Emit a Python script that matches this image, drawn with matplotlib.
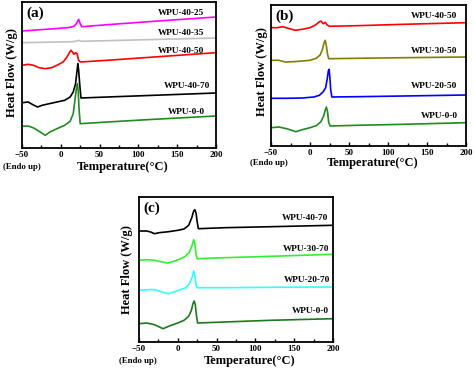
import matplotlib.pyplot as plt
from matplotlib.ticker import MultipleLocator

plt.rcParams['font.family'] = ['Liberation Serif', 'DejaVu Serif']
plt.rcParams['font.weight'] = 'bold'

# ---- panel (a) data (temperature in C, heat flow in arbitrary offset units) ----
a_4025_t = [-50, -30, -10, 10, 17, 20, 23, 25, 27, 60, 120, 200]
a_4025_y = [117.0, 118.1, 119.2, 120.4, 121.7, 124.3, 128.7, 124.3, 121.3, 123.3, 126.7, 131.0]
a_4035_t = [-50, 15, 21, 23, 26, 200]
a_4035_y = [105.3, 106.3, 107.0, 107.7, 106.7, 110.0]
a_4050_t = [-50, -42, -35, -28, -20, -12, -5, 3, 8, 11, 13, 15, 17, 19, 21, 23, 25, 60, 120, 200]
a_4050_y = [82.7, 83.7, 82.7, 80.3, 79.3, 80.3, 82.7, 86.0, 91.0, 95.3, 97.7, 96.0, 93.7, 95.3,
            94.3, 87.7, 86.0, 87.7, 91.0, 95.3]
a_4070_t = [-50, -42, -36, -30, -24, -15, -5, 5, 12, 16, 19, 21, 22, 23, 24.5, 26, 60, 120, 200]
a_4070_y = [45.3, 46.0, 43.3, 41.0, 42.7, 44.3, 46.0, 47.7, 51.0, 56.0, 64.3, 77.7, 84.3, 77.7,
            62.7, 50.0, 51.0, 52.7, 55.0]
a_00_t = [-50, -42, -35, -28, -20, -14, -5, 5, 12, 16, 18.5, 20.5, 21.5, 22.5, 23.5, 25, 60, 120, 200]
a_00_y = [21.7, 22.0, 20.0, 16.7, 12.7, 16.0, 19.3, 22.7, 26.7, 34.3, 49.3, 62.0, 64.3, 56.0,
          39.3, 24.3, 26.0, 28.7, 32.0]

# ---- panel (b) data ----
b_4050_t = [-50, -42, -35, -28, -19, -10, 0, 7, 11, 14, 17, 19.5, 22, 25, 60, 120, 200]
b_4050_y = [118.3, 118.3, 119.3, 117.7, 115.7, 116.7, 118.3, 121.0, 123.7, 125.0, 122.3, 123.7,
            121.0, 119.7, 120.3, 121.7, 123.3]
b_3050_t = [-50, -40, -32, -22, -10, 0, 8, 13, 16, 18, 19.5, 21, 22.5, 24, 60, 120, 200]
b_3050_y = [85.7, 85.7, 84.0, 84.3, 85.0, 85.7, 87.7, 91.0, 96.7, 103.3, 105.7, 100.0, 91.7,
            87.3, 87.7, 88.3, 89.0]
b_2050_t = [-50, -30, -10, 5, 12, 17, 20, 22, 23.5, 24.5, 25.5, 26.5, 28, 60, 120, 200]
b_2050_y = [47.7, 47.7, 48.0, 49.0, 50.7, 54.3, 58.3, 66.7, 75.0, 76.7, 68.3, 56.7, 49.0, 49.3,
            50.0, 51.0]
b_00_t = [-50, -40, -30, -18, -10, 0, 8, 14, 17.5, 19.5, 21, 22.5, 24, 26, 60, 120, 200]
b_00_y = [18.3, 19.0, 17.3, 14.3, 16.3, 18.3, 20.3, 24.3, 30.0, 35.7, 39.0, 34.3, 23.3, 20.0,
          20.7, 21.7, 23.3]

# ---- panel (c) data ----
c_4070_t = [-50, -40, -35, -30, -24, -12, 0, 8, 14, 18, 20.5, 22, 23.5, 25, 26.5, 60, 120, 200]
c_4070_y = [111.0, 111.0, 110.0, 108.3, 109.3, 110.3, 111.7, 113.0, 116.7, 124.3, 131.0, 132.3,
            129.0, 120.0, 113.3, 114.3, 115.3, 116.7]
c_3070_t = [-50, -40, -30, -20, -13, -5, 3, 10, 15, 18.5, 20.5, 22, 23.5, 25, 60, 120, 200]
c_3070_y = [81.7, 82.3, 81.7, 80.0, 79.0, 80.7, 83.0, 85.7, 90.0, 96.7, 102.3, 98.3, 87.7, 83.3,
            84.3, 85.7, 87.7]
c_2070_t = [-50, -40, -30, -20, -12, -4, 3, 10, 15, 18.5, 20.5, 22, 23.5, 25, 60, 120, 200]
c_2070_y = [51.7, 52.3, 52.3, 50.0, 48.3, 50.3, 52.3, 54.3, 58.3, 65.0, 71.0, 66.7, 57.7, 54.3,
            54.3, 54.7, 55.0]
c_00_t = [-50, -40, -30, -19, -10, 0, 8, 14, 17.5, 19.5, 21, 22.5, 24, 25.5, 60, 120, 200]
c_00_y = [18.3, 19.0, 17.3, 13.3, 16.3, 19.0, 21.7, 25.7, 31.7, 38.3, 41.0, 37.7, 26.7, 19.0,
          20.0, 21.7, 23.3]

panels = [
    {'tag': '(a)', 'rect': [22, 2, 216, 148], 'ytop': 146,
     'series': [(a_4025_t, a_4025_y, '#ff00ff', 'WPU-40-25', 185, 135.3),
                (a_4035_t, a_4035_y, '#c0c0c0', 'WPU-40-35', 185, 115),
                (a_4050_t, a_4050_y, '#ff0000', 'WPU-40-50', 185, 97),
                (a_4070_t, a_4070_y, '#000000', 'WPU-40-70', 192, 62),
                (a_00_t, a_00_y, '#1e8c1e', 'WPU-0-0', 186, 36)],
     'xlab': (123, 167), 'ylab': (12, 73), 'endo': (41, 167)},
    {'tag': '(b)', 'rect': [271, 5, 466, 146], 'ytop': 141,
     'series': [(b_4050_t, b_4050_y, '#ff0000', 'WPU-40-50', 189, 130),
                (b_3050_t, b_3050_y, '#808000', 'WPU-30-50', 189, 95),
                (b_2050_t, b_2050_y, '#0000ff', 'WPU-20-50', 189, 60),
                (b_00_t, b_00_y, '#1e8c1e', 'WPU-0-0', 189, 30)],
     'xlab': (373, 163), 'ylab': (262, 72), 'endo': (288, 163)},
    {'tag': '(c)', 'rect': [139, 197, 333, 342], 'ytop': 145,
     'series': [(c_4070_t, c_4070_y, '#000000', 'WPU-40-70', 193.6, 124.3),
                (c_3070_t, c_3070_y, '#33ee33', 'WPU-30-70', 195.7, 93.3),
                (c_2070_t, c_2070_y, '#33ffff', 'WPU-20-70', 195.7, 62.3),
                (c_00_t, c_00_y, '#1b7a1b', 'WPU-0-0', 194.4, 31)],
     'xlab': (250, 361), 'ylab': (127, 270), 'endo': (157, 361)},
]

W, H = 474, 369
fig = plt.figure(figsize=(W / 100, H / 100), dpi=100)

for p in panels:
    l, t, r, b = p['rect']
    ax = fig.add_axes([l / W, 1 - b / H, (r - l) / W, (b - t) / H])
    for tt, yy, col, name, lx, ly in p['series']:
        ax.plot(tt, yy, color=col, lw=1.2)
        ax.text(lx, ly, name, ha='right', va='center', fontsize=6.7, fontweight='bold')
    ax.set_xlim(-50, 200)
    ax.set_ylim(0, p['ytop'])
    ax.xaxis.set_major_locator(MultipleLocator(50))
    ax.xaxis.set_minor_locator(MultipleLocator(25))
    ax.tick_params(axis='x', which='both', direction='in', labelsize=6.5, pad=2)
    ax.tick_params(axis='x', which='major', length=3, width=1)
    ax.tick_params(axis='x', which='minor', length=2, width=1)
    ax.set_yticks([])
    for lab in ax.get_xticklabels():
        lab.set_fontweight('bold')
    for s in ax.spines.values():
        s.set_linewidth(1.3)
    ax.text(0.02, 0.97, p['tag'], transform=ax.transAxes, ha='left', va='top',
            fontsize=11, fontweight='bold')
    fig.text(p['xlab'][0] / W, 1 - p['xlab'][1] / H, 'Temperature(°C)', ha='center',
             va='center', fontsize=9, fontweight='bold')
    fig.text(p['ylab'][0] / W, 1 - p['ylab'][1] / H, 'Heat Flow (W/g)', ha='center',
             va='center', rotation=90, fontsize=9, fontweight='bold')
    fig.text(p['endo'][0] / W, 1 - p['endo'][1] / H, '(Endo up)', ha='right',
             va='center', fontsize=6.3, fontweight='bold')

fig.savefig('out.png', dpi=100)
